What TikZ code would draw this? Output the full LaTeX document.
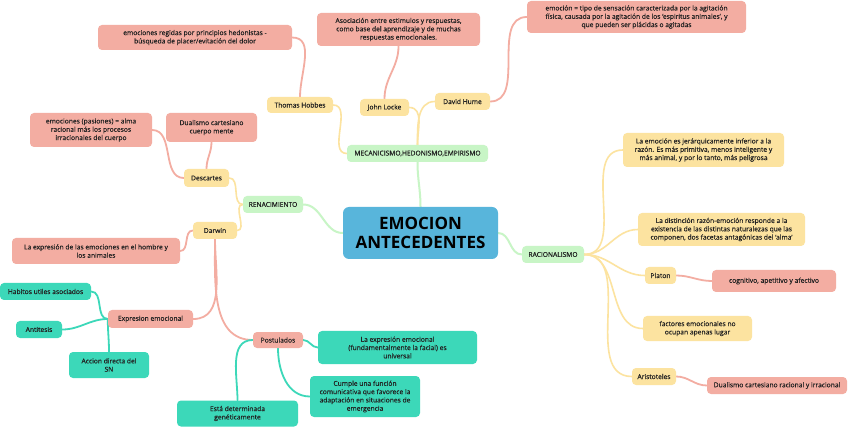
\documentclass[tikz,border=0pt]{standalone}
\usepackage{fontspec}
\setmainfont{Open Sans}
\newfontfamily\notefont{Open Sans}[FakeBold=0.5]
\usepackage{xcolor}
\usepackage{tikz}
\usetikzlibrary{backgrounds}
\definecolor{hubblue}{HTML}{58B5DB}
\definecolor{eragreen}{HTML}{C8F5C6}
\definecolor{whoyellow}{HTML}{FCE3A0}
\definecolor{ideapink}{HTML}{F3ADA2}
\definecolor{factteal}{HTML}{3CD8B9}
\definecolor{ink}{HTML}{222222}

\begin{document}
\begin{tikzpicture}[x=1pt,y=-1pt,
  box/.style={rounded corners=4pt,inner sep=0pt,align=center,text=ink,
    font=\notefont\fontsize{6.7}{8.3}\selectfont},
  hub/.style={box,fill=hubblue,rounded corners=6pt,text=black,
    font=\fontsize{17}{19}\selectfont\bfseries},
  era/.style={box,fill=eragreen},
  who/.style={box,fill=whoyellow},
  idea/.style={box,fill=ideapink},
  fact/.style={box,fill=factteal},
  lnk/.style={line width=1.6pt,line cap=round},
  eraln/.style={lnk,eragreen,line width=2pt},
  whoin/.style={lnk,whoyellow},
  idealn/.style={lnk,ideapink,line width=1.8pt},
  factln/.style={lnk,factteal,line width=1.8pt}]
  \useasboundingbox (0,0) rectangle (848,427);

  % centre
  \node[hub,minimum width=155pt,minimum height=52pt] (hub) at (420.5,233) {EMOCION\\ANTECEDENTES};

  % mecanicismo
  \node[era,minimum width=141pt,minimum height=17pt] (meca) at (417.5,153.5) {MECANICISMO,HEDONISMO,EMPIRISMO};
  \node[who,minimum width=66pt,minimum height=16pt] (hobbes) at (300,105) {Thomas Hobbes};
  \node[idea,minimum width=194pt,minimum height=25pt] (hobnote) at (195,37.5) {emociones regidas por principios hedonistas -\\búsqueda de placer/evitación del dolor};
  \node[who,minimum width=49pt,minimum height=17pt] (locke) at (384.5,107.5) {John Locke};
  \node[idea,minimum width=163pt,minimum height=33pt] (locknote) at (398.5,29.5) {Asociación entre estimulos y respuestas,\\como base del aprendizaje y de muchas\\respuestas emocionales.};
  \node[who,minimum width=55pt,minimum height=17pt] (hume) at (462.5,101.5) {David Hume};
  \node[idea,minimum width=219pt,minimum height=32pt] (humenote) at (636.5,17) {emoción = tipo de sensación caracterizada por la agitación\\física, causada por la agitación de los ‘espiritus animales’, y\\que pueden ser plácidas o agitadas};

  % renacimiento
  \node[era,minimum width=60pt,minimum height=17pt] (ren) at (273,204.5) {RENACIMIENTO};
  \node[who,minimum width=45pt,minimum height=18pt] (descartes) at (206.5,178) {Descartes};
  \node[idea,minimum width=122pt,minimum height=34pt] (desnote) at (91,130) {emociones (pasiones) = alma\\racional más los procesos\\irracionales del cuerpo};
  \node[idea,minimum width=91pt,minimum height=29pt] (dual) at (211.5,127.5) {Dualismo cartesiano\\cuerpo mente};
  \node[who,minimum width=44pt,minimum height=17pt] (darwin) at (215,230.5) {Darwin};
  \node[idea,minimum width=168pt,minimum height=26pt] (darnote) at (96,251) {La expresión de las emociones en el hombre y\\los animales};
  \node[idea,minimum width=85pt,minimum height=18pt] (expr) at (150.5,319) {Expresion emocional};
  \node[fact,minimum width=91pt,minimum height=17pt] (habitos) at (45.5,291.5) {Habitos utiles asociados};
  \node[fact,minimum width=46pt,minimum height=17pt] (anti) at (39,329.5) {Antitesis};
  \node[fact,minimum width=80pt,minimum height=26pt] (accion) at (109,365) {Accion directa del\\SN};
  \node[idea,minimum width=50pt,minimum height=16pt] (post) at (278,340) {Postulados};
  \node[fact,minimum width=159pt,minimum height=33pt] (post1) at (397.5,347.5) {La expresión emocional\\(fundamentalmente la facial) es\\universal};
  \node[fact,minimum width=110pt,minimum height=41pt] (cumple) at (365,396.5) {Cumple una función\\comunicativa que favorece la\\adaptación en situaciones de\\emergencia};
  \node[fact,minimum width=121pt,minimum height=26pt] (esta) at (237.5,413.5) {Está determinada\\genéticamente};

  % racionalismo
  \node[era,minimum width=62pt,minimum height=17pt] (rac) at (553,254.5) {RACIONALISMO};
  \node[who,minimum width=161pt,minimum height=34pt] (rac1) at (703.5,150) {La emoción es jerárquicamente inferior a la\\razón. Es más primitiva, menos inteligente y\\más animal, y por lo tanto, más peligrosa};
  \node[who,minimum width=167pt,minimum height=33pt] (rac2) at (721.5,229.5) {La distinción razón-emoción responde a la\\existencia de las distintas naturalezas que las\\componen, dos facetas antagónicas del ‘alma’};
  \node[who,minimum width=31pt,minimum height=17pt] (platon) at (660.5,275.5) {Platon};
  \node[idea,minimum width=124pt,minimum height=22pt] (platnote) at (774,281) {cognitivo, apetitivo y afectivo};
  \node[who,minimum width=109pt,minimum height=25pt] (factores) at (697.5,328.5) {factores emocionales no\\ocupan apenas lugar};
  \node[who,minimum width=44pt,minimum height=17pt] (aris) at (654,376.5) {Aristoteles};
  \node[idea,minimum width=140pt,minimum height=17pt] (arisnote) at (777,385.5) {Dualismo cartesiano racional y irracional};

  % branches, behind the boxes
  \begin{scope}[on background layer]
    \fill[white] (0,0) rectangle (848,427);
    \draw[eraln] (hub.north) to[out=90,in=-90] (meca.south);
    \draw[eraln] (hub.west) to[out=180,in=0] (ren.east);
    \draw[eraln] (hub.east) to[out=0,in=180] (rac.west);

    \draw[whoin] (meca.west) to[out=180,in=0] (hobbes.east);
    \draw[whoin] (meca.north) to[out=90,in=0] (locke.east);
    \draw[whoin] (meca.north) to[out=90,in=180] (hume.west);
    \draw[idealn] (hobbes.north) to[out=90,in=0] (hobnote.east);
    \draw[idealn] (locke.north) to[out=90,in=-90] (locknote.south);
    \draw[idealn] (hume.east) to[out=0,in=180] (humenote.west);

    \draw[whoin] (ren.west) to[out=180,in=0] (descartes.east);
    \draw[whoin] (ren.west) to[out=180,in=0] (darwin.east);
    \draw[idealn] (descartes.west) to[out=180,in=0] (desnote.east);
    \draw[idealn] (descartes.north) to[out=90,in=-90] (dual.south);
    \draw[idealn] (darwin.west) to[out=180,in=0] (darnote.east);
    \draw[idealn] (darwin.south) to[out=-90,in=0] (expr.east);
    \draw[idealn] (darwin.south) to[out=-90,in=180] (post.west);
    \draw[factln] (expr.west) to[out=180,in=0] (habitos.east);
    \draw[factln] (expr.west) to[out=180,in=0] (anti.east);
    \draw[factln] (expr.west) to[out=-90,in=90] (accion.north);
    \draw[factln] (post.east) to[out=0,in=180] (post1.west);
    \draw[factln] (post.south) to[out=-90,in=180] (cumple.west);
    \draw[factln] (post.west) to[out=180,in=90] (esta.north);

    \foreach \k in {rac1,rac2,platon,factores,aris}
      \draw[whoin] (rac.east) to[out=0,in=180] (\k.west);
    \draw[idealn] (platon.east) to[out=0,in=180] (platnote.west);
    \draw[idealn] (aris.east) to[out=0,in=180] (arisnote.west);
  \end{scope}
\end{tikzpicture}
\end{document}
